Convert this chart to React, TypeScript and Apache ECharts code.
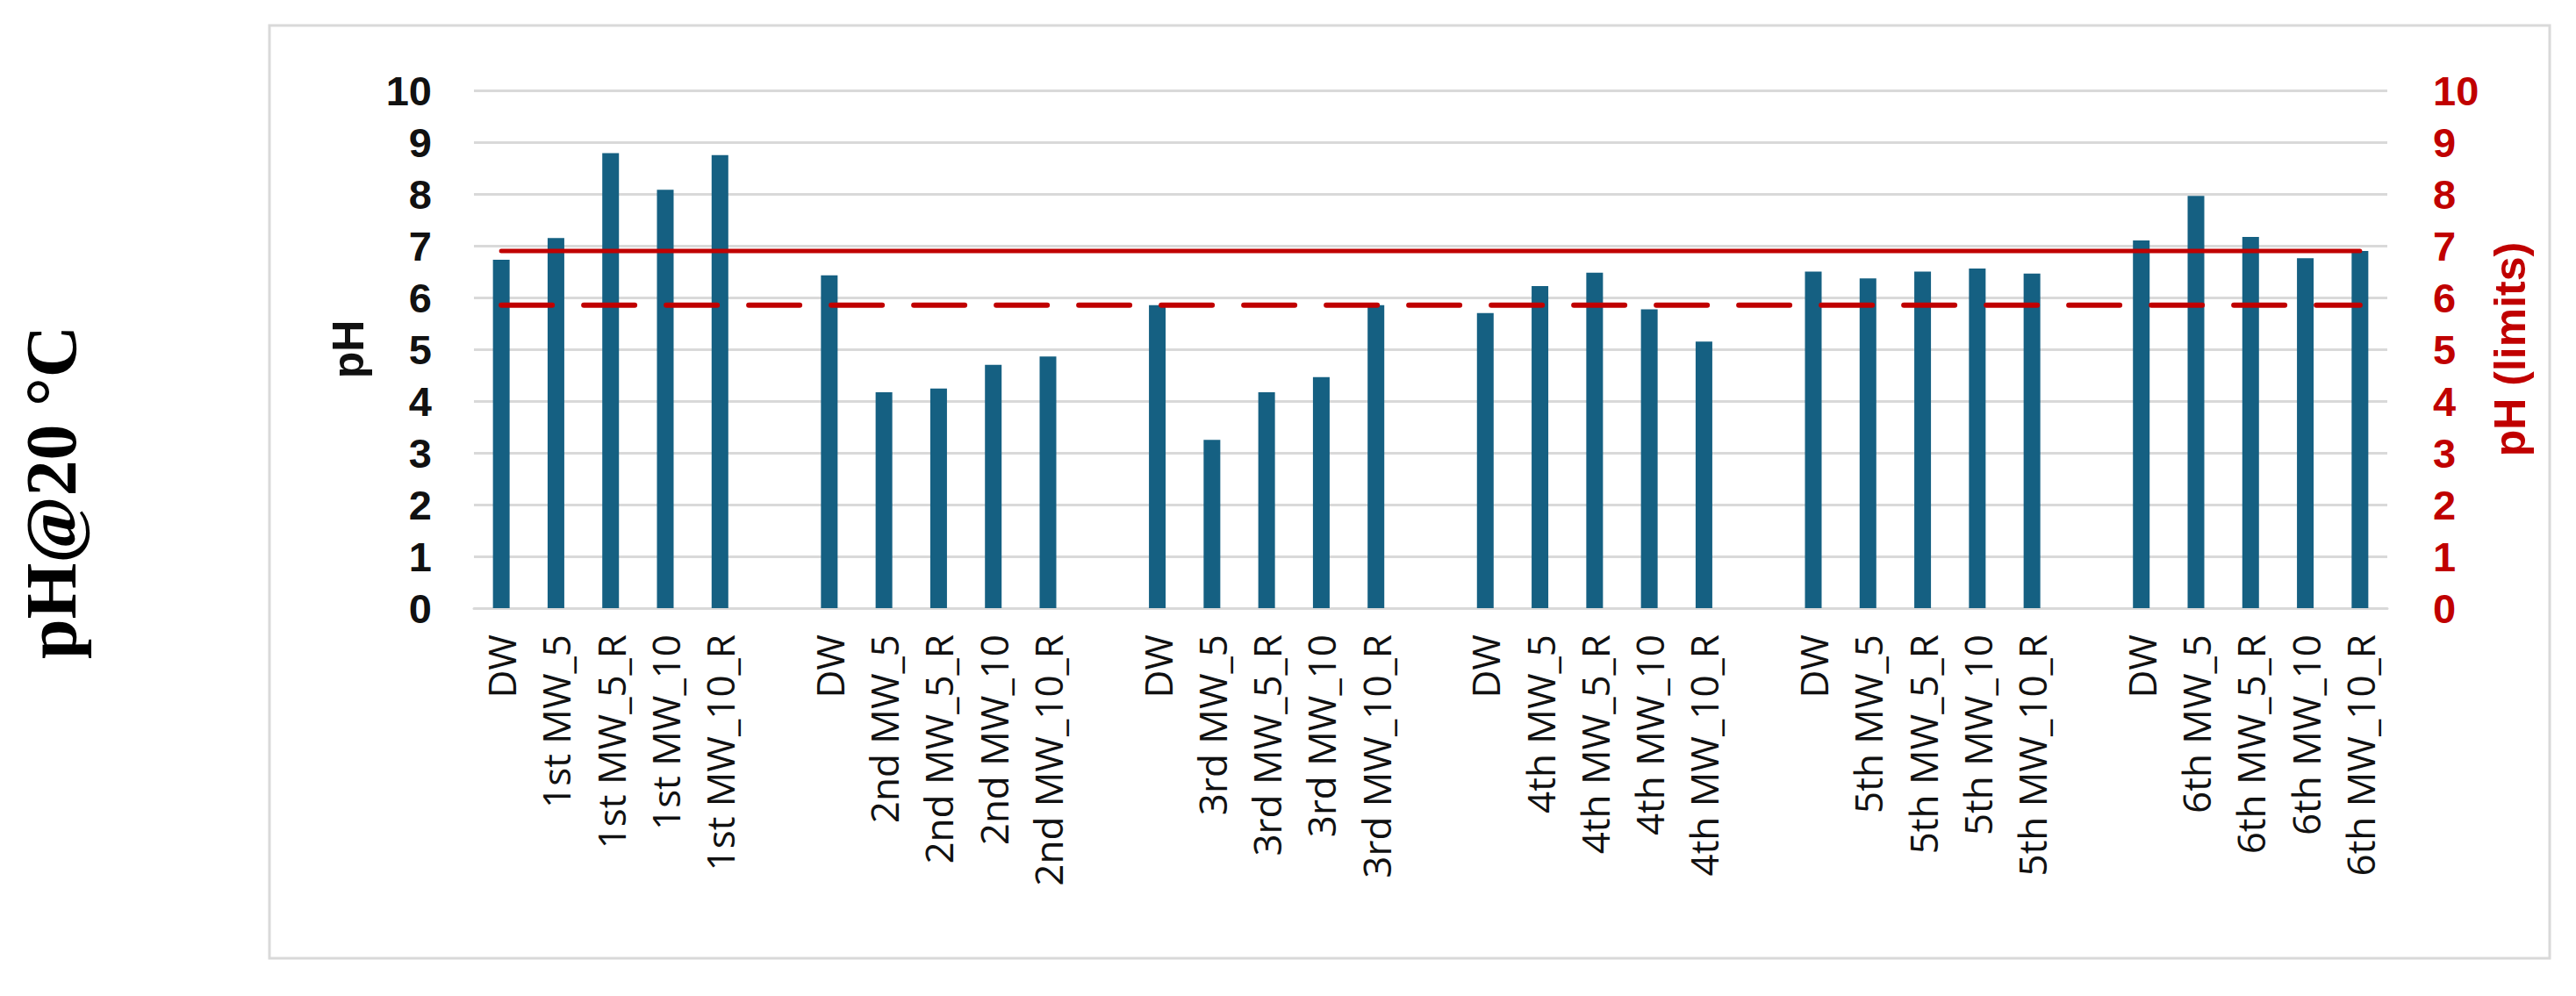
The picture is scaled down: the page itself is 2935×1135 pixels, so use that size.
import React, { useEffect, useRef } from "react";
import * as echarts from "echarts";

// ---- Category labels (one group per mixing-water run) ----
const RUN1_LABELS = ["DW", "1st MW_5", "1st MW_5_R", "1st MW_10", "1st MW_10_R"];
const RUN2_LABELS = ["DW", "2nd MW_5", "2nd MW_5_R", "2nd MW_10", "2nd MW_10_R"];
const RUN3_LABELS = ["DW", "3rd MW_5", "3rd MW_5_R", "3rd MW_10", "3rd MW_10_R"];
const RUN4_LABELS = ["DW", "4th MW_5", "4th MW_5_R", "4th MW_10", "4th MW_10_R"];
const RUN5_LABELS = ["DW", "5th MW_5", "5th MW_5_R", "5th MW_10", "5th MW_10_R"];
const RUN6_LABELS = ["DW", "6th MW_5", "6th MW_5_R", "6th MW_10", "6th MW_10_R"];

// ---- pH values ----
const RUN1_PH = [6.73, 7.15, 8.79, 8.08, 8.75];
const RUN2_PH = [6.43, 4.17, 4.24, 4.7, 4.86];
const RUN3_PH = [5.85, 3.25, 4.17, 4.46, 5.85];
const RUN4_PH = [5.7, 6.22, 6.48, 5.77, 5.15];
const RUN5_PH = [6.5, 6.37, 6.5, 6.56, 6.46];
const RUN6_PH = [7.1, 7.96, 7.17, 6.76, 6.9];

// ---- pH limits (secondary axis) ----
const PH_UPPER_LIMIT = 6.9;
const PH_LOWER_LIMIT = 5.85;

// ---- Axis ticks ----
const Y_MIN = 0;
const Y_MAX = 10;
const Y_INTERVAL = 1;

const LABEL_GROUPS = [RUN1_LABELS, RUN2_LABELS, RUN3_LABELS, RUN4_LABELS, RUN5_LABELS, RUN6_LABELS];
const VALUE_GROUPS = [RUN1_PH, RUN2_PH, RUN3_PH, RUN4_PH, RUN5_PH, RUN6_PH];

// Build the category axis with one blank category between runs (as in the original).
const categories: string[] = [];
const phValues: (number | null)[] = [];
LABEL_GROUPS.forEach((labels, gi) => {
  labels.forEach((l, i) => {
    categories.push(l);
    phValues.push(VALUE_GROUPS[gi][i]);
  });
  if (gi < LABEL_GROUPS.length - 1) {
    categories.push("");
    phValues.push(null);
  }
});
const FIRST = 0;
const LAST = categories.length - 1;

const BAR_COLOR = "#156082";
const LIMIT_COLOR = "#c00000";
const GRID_COLOR = "#d9d9d9";

export default function App() {
  const ref = useRef<HTMLDivElement>(null);

  useEffect(() => {
    if (!ref.current) return;
    const chart = echarts.init(ref.current, undefined, { renderer: "svg" });
    chart.setOption({
      animation: false,
      backgroundColor: "#ffffff",
      grid: { left: 540, right: 215, top: 103, bottom: 442, containLabel: false },
      xAxis: {
        type: "category",
        data: categories,
        boundaryGap: true,
        axisLine: { show: true, lineStyle: { color: GRID_COLOR, width: 3 } },
        axisTick: { show: false },
        splitLine: { show: false },
        axisLabel: {
          interval: 0,
          rotate: 90,
          margin: 30,
          fontSize: 44,
          fontFamily: "Open Sans",
          color: "#111111",
        },
      },
      yAxis: [
        {
          type: "value",
          position: "left",
          min: Y_MIN,
          max: Y_MAX,
          interval: Y_INTERVAL,
          name: "pH",
          nameLocation: "middle",
          nameRotate: 90,
          nameGap: 118,
          nameTextStyle: {
            fontSize: 50,
            fontWeight: "bold",
            fontFamily: "Liberation Sans",
            color: "#111111",
          },
          axisLine: { show: false },
          axisTick: { show: false },
          axisLabel: {
            margin: 48,
            fontSize: 47,
            fontWeight: "bold",
            fontFamily: "Liberation Sans",
            color: "#111111",
          },
          splitLine: { show: true, lineStyle: { color: GRID_COLOR, width: 3 } },
        },
        {
          type: "value",
          position: "right",
          min: Y_MIN,
          max: Y_MAX,
          interval: Y_INTERVAL,
          name: "pH (limits)",
          nameLocation: "middle",
          nameRotate: 90,
          nameGap: 112,
          nameTextStyle: {
            fontSize: 50,
            fontWeight: "bold",
            fontFamily: "Liberation Sans",
            color: LIMIT_COLOR,
          },
          axisLine: { show: false },
          axisTick: { show: false },
          axisLabel: {
            margin: 52,
            fontSize: 47,
            fontWeight: "bold",
            fontFamily: "Liberation Sans",
            color: LIMIT_COLOR,
          },
          splitLine: { show: false },
        },
      ],
      series: [
        {
          name: "pH",
          type: "bar",
          yAxisIndex: 0,
          data: phValues,
          barWidth: 19,
          itemStyle: { color: BAR_COLOR },
          z: 2,
        },
        {
          name: "Upper limit",
          type: "line",
          yAxisIndex: 1,
          data: [
            [FIRST, PH_UPPER_LIMIT],
            [LAST, PH_UPPER_LIMIT],
          ],
          symbol: "none",
          lineStyle: { color: LIMIT_COLOR, width: 5, cap: "round" },
          z: 3,
        },
        {
          name: "Lower limit",
          type: "line",
          yAxisIndex: 1,
          data: [
            [FIRST, PH_LOWER_LIMIT],
            [LAST, PH_LOWER_LIMIT],
          ],
          symbol: "none",
          lineStyle: { color: LIMIT_COLOR, width: 6, type: [58, 36], cap: "round" },
          z: 3,
        },
      ],
      graphic: [
        {
          type: "rect",
          shape: { x: 307, y: 29, width: 2598, height: 1063 },
          style: { fill: "none", stroke: GRID_COLOR, lineWidth: 3 },
          z: -1,
          silent: true,
        },
        {
          type: "text",
          x: 58,
          y: 561,
          rotation: Math.PI / 2,
          style: {
            text: "pH@20 °C",
            fontSize: 82,
            fontWeight: "bold",
            fontFamily: "Liberation Serif",
            fill: "#000000",
            align: "center",
            verticalAlign: "middle",
          },
        },
      ],
    });
    return () => chart.dispose();
  }, []);

  return (
    <div
      ref={ref}
      style={{ position: "fixed", left: 0, top: 0, width: 2935, height: 1135, background: "#fff" }}
    />
  );
}
